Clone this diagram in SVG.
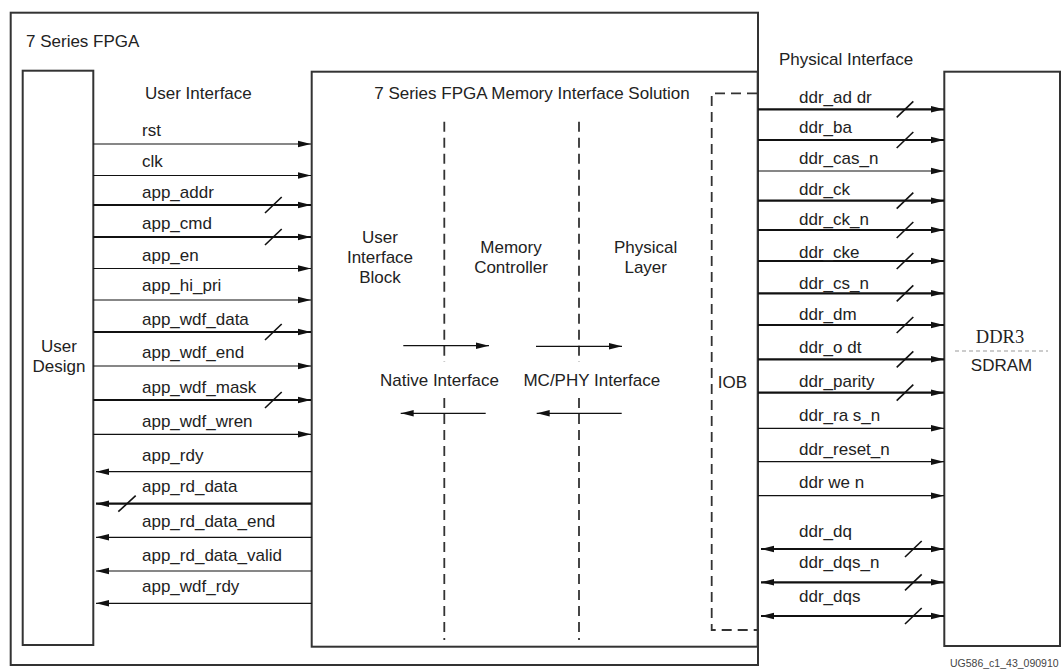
<svg xmlns="http://www.w3.org/2000/svg" width="1062" height="669" viewBox="0 0 1062 669">
<style>
.box{fill:#fff;stroke:#333;stroke-width:2}
.t{font-family:"Liberation Sans",Arial,sans-serif;font-size:17px;fill:#222}
.tc{font-family:"Liberation Sans",Arial,sans-serif;font-size:17px;fill:#222;text-anchor:middle}
.thin{stroke:#111;stroke-width:1.2;fill:none}
.thick{stroke:#111;stroke-width:2.2;fill:none}
.slash{stroke:#111;stroke-width:1.6}
.dash{stroke:#333;stroke-width:1.8;fill:none;stroke-dasharray:10 6}
</style>
<defs>
<marker id="ah" markerUnits="userSpaceOnUse" markerWidth="13" markerHeight="8" refX="13" refY="4" orient="auto-start-reverse"><path d="M0,0.8 L13,4 L0,7.2 z" fill="#111"/></marker>
</defs>
<rect width="1062" height="669" fill="#fff"/>
<g id="fpga">
<rect class="box" x="10.7" y="12.7" width="747.3" height="652.3"/>
<text class="t" x="26" y="46.7">7 Series FPGA</text>
</g>
<g id="user-design">
<rect class="box" x="22.7" y="70.7" width="70.6" height="574.3"/>
<text class="tc" x="59" y="351.5">User</text>
<text class="tc" x="59" y="372">Design</text>
</g>
<g id="mis">
<rect class="box" x="311.7" y="71.7" width="446" height="575"/>
<text class="tc" x="532" y="99.3">7 Series FPGA Memory Interface Solution</text>
<line class="dash" x1="444.3" y1="121.7" x2="444.3" y2="362"/>
<line class="dash" x1="444.3" y1="398" x2="444.3" y2="640"/>
<line class="dash" x1="579" y1="121.7" x2="579" y2="362"/>
<line class="dash" x1="579" y1="398" x2="579" y2="640"/>
</g>
<g id="ui-block">
<text class="tc" x="380" y="242.7">User</text>
<text class="tc" x="380" y="262.5">Interface</text>
<text class="tc" x="380" y="282.7">Block</text>
</g>
<g id="mem-ctrl">
<text class="tc" x="511" y="252.7">Memory</text>
<text class="tc" x="511" y="272.5">Controller</text>
</g>
<g id="phy">
<text class="tc" x="645.7" y="252.7">Physical</text>
<text class="tc" x="645.7" y="272.5">Layer</text>
</g>
<g id="iob">
<path class="dash" d="M757,93.3 H711.7 V630 H757"/>
<text class="tc" x="732.5" y="388.3">IOB</text>
</g>
<g id="ddr3">
<rect class="box" x="944.3" y="71.7" width="115.7" height="574.3"/>
<text x="1000" y="343.3" style="font-family:'Liberation Serif','Times New Roman',serif;font-size:18.5px;fill:#222;text-anchor:middle">DDR3</text>
<line x1="955" y1="351" x2="1048" y2="351" style="stroke:#999;stroke-width:1;stroke-dasharray:4 3"/>
<text class="tc" x="1001.5" y="371">SDRAM</text>
</g>
<g id="labels">
<text class="t" x="145" y="99.3">User Interface</text>
<text class="t" x="779" y="65">Physical Interface</text>
<text class="tc" x="439.5" y="385.7">Native Interface</text>
<text class="tc" x="591.8" y="385.7">MC/PHY Interface</text>
<text x="950" y="667" style="font-family:'Liberation Sans',Arial,sans-serif;font-size:10.5px;fill:#444">UG586_c1_43_090910</text>
</g>
<g id="connectors">
<line class="thin" x1="403.3" y1="345.7" x2="489" y2="345.7" marker-end="url(#ah)"/>
<line class="thin" x1="536" y1="346.3" x2="622" y2="346.3" marker-end="url(#ah)"/>
<line class="thin" x1="485.7" y1="413.3" x2="400.7" y2="413.3" marker-end="url(#ah)"/>
<line class="thin" x1="621.7" y1="413.3" x2="536.7" y2="413.3" marker-end="url(#ah)"/>
<line class="thin" x1="93.3" y1="144" x2="311" y2="144" marker-end="url(#ah)"/>
<line class="thin" x1="93.3" y1="175.5" x2="311" y2="175.5" marker-end="url(#ah)"/>
<line class="thick" x1="93.3" y1="205" x2="311" y2="205" marker-end="url(#ah)"/>
<line class="slash" x1="265" y1="213" x2="281.7" y2="197"/>
<line class="thick" x1="93.3" y1="237" x2="311" y2="237" marker-end="url(#ah)"/>
<line class="slash" x1="265" y1="245" x2="281.7" y2="229"/>
<line class="thin" x1="93.3" y1="268.5" x2="311" y2="268.5" marker-end="url(#ah)"/>
<line class="thin" x1="93.3" y1="300" x2="311" y2="300" marker-end="url(#ah)"/>
<line class="thick" x1="93.3" y1="332" x2="311" y2="332" marker-end="url(#ah)"/>
<line class="slash" x1="265" y1="340" x2="281.7" y2="324"/>
<line class="thin" x1="93.3" y1="366" x2="311" y2="366" marker-end="url(#ah)"/>
<line class="thick" x1="93.3" y1="400" x2="311" y2="400" marker-end="url(#ah)"/>
<line class="slash" x1="265" y1="408" x2="281.7" y2="392"/>
<line class="thin" x1="93.3" y1="434.3" x2="311" y2="434.3" marker-end="url(#ah)"/>
<line class="thin" x1="311.7" y1="471.7" x2="96" y2="471.7" marker-end="url(#ah)"/>
<line class="thick" x1="311.7" y1="503.7" x2="96" y2="503.7" marker-end="url(#ah)"/>
<line class="slash" x1="118.3" y1="511.7" x2="135.7" y2="495.7"/>
<line class="thin" x1="311.7" y1="537.3" x2="96" y2="537.3" marker-end="url(#ah)"/>
<line class="thin" x1="311.7" y1="571" x2="96" y2="571" marker-end="url(#ah)"/>
<line class="thin" x1="311.7" y1="603.3" x2="96" y2="603.3" marker-end="url(#ah)"/>
<line class="thick" x1="758" y1="109.3" x2="944" y2="109.3" marker-end="url(#ah)"/>
<line class="slash" x1="896.7" y1="117.3" x2="913.3" y2="101.3"/>
<line class="thick" x1="758" y1="140" x2="944" y2="140" marker-end="url(#ah)"/>
<line class="slash" x1="896.7" y1="148" x2="913.3" y2="132"/>
<line class="thin" x1="758" y1="171" x2="944" y2="171" marker-end="url(#ah)"/>
<line class="thick" x1="758" y1="200.7" x2="944" y2="200.7" marker-end="url(#ah)"/>
<line class="slash" x1="896.7" y1="208.7" x2="913.3" y2="192.7"/>
<line class="thick" x1="758" y1="230" x2="944" y2="230" marker-end="url(#ah)"/>
<line class="slash" x1="896.7" y1="238" x2="913.3" y2="222"/>
<line class="thick" x1="758" y1="261" x2="944" y2="261" marker-end="url(#ah)"/>
<line class="slash" x1="896.7" y1="269" x2="913.3" y2="253"/>
<line class="thick" x1="758" y1="293.3" x2="944" y2="293.3" marker-end="url(#ah)"/>
<line class="slash" x1="896.7" y1="301.3" x2="913.3" y2="285.3"/>
<line class="thick" x1="758" y1="325" x2="944" y2="325" marker-end="url(#ah)"/>
<line class="slash" x1="896.7" y1="333" x2="913.3" y2="317"/>
<line class="thick" x1="758" y1="359.3" x2="944" y2="359.3" marker-end="url(#ah)"/>
<line class="slash" x1="896.7" y1="367.3" x2="913.3" y2="351.3"/>
<line class="thick" x1="758" y1="392.7" x2="944" y2="392.7" marker-end="url(#ah)"/>
<line class="slash" x1="896.7" y1="400.7" x2="913.3" y2="384.7"/>
<line class="thin" x1="758" y1="428.3" x2="944" y2="428.3" marker-end="url(#ah)"/>
<line class="thin" x1="758" y1="461.7" x2="944" y2="461.7" marker-end="url(#ah)"/>
<line class="thin" x1="758" y1="495.7" x2="944" y2="495.7" marker-end="url(#ah)"/>
<line class="thick" x1="761" y1="549" x2="944" y2="549" marker-start="url(#ah)" marker-end="url(#ah)"/>
<line class="slash" x1="905" y1="557" x2="921.7" y2="541"/>
<line class="thick" x1="761" y1="582.3" x2="944" y2="582.3" marker-start="url(#ah)" marker-end="url(#ah)"/>
<line class="slash" x1="905" y1="590.3" x2="921.7" y2="574.3"/>
<line class="thick" x1="761" y1="616" x2="944" y2="616" marker-start="url(#ah)" marker-end="url(#ah)"/>
<line class="slash" x1="905" y1="624" x2="921.7" y2="608"/>
</g>
<g id="signal-labels">
<text class="t" x="142" y="136">rst</text>
<text class="t" x="142" y="166.5">clk</text>
<text class="t" x="142" y="197.5">app_addr</text>
<text class="t" x="142" y="228.7">app_cmd</text>
<text class="t" x="142" y="260.7">app_en</text>
<text class="t" x="142" y="291">app_hi_pri</text>
<text class="t" x="142" y="325">app_wdf_data</text>
<text class="t" x="142" y="358.3">app_wdf_end</text>
<text class="t" x="142" y="392.7">app_wdf_mask</text>
<text class="t" x="142" y="426.7">app_wdf_wren</text>
<text class="t" x="142" y="460.7">app_rdy</text>
<text class="t" x="142" y="492.3">app_rd_data</text>
<text class="t" x="142" y="526.7">app_rd_data_end</text>
<text class="t" x="142" y="560.7">app_rd_data_valid</text>
<text class="t" x="142" y="591.7">app_wdf_rdy</text>
<text class="t" x="799" y="103">ddr_ad dr</text>
<text class="t" x="799" y="133.3">ddr_ba</text>
<text class="t" x="799" y="164">ddr_cas_n</text>
<text class="t" x="799" y="195">ddr_ck</text>
<text class="t" x="799" y="225">ddr_ck_n</text>
<text class="t" x="799" y="257.5">ddr_cke</text>
<text class="t" x="799" y="289">ddr_cs_n</text>
<text class="t" x="799" y="320">ddr_dm</text>
<text class="t" x="799" y="352.7">ddr_o dt</text>
<text class="t" x="799" y="387">ddr_parity</text>
<text class="t" x="799" y="421">ddr_ra s_n</text>
<text class="t" x="799" y="455">ddr_reset_n</text>
<text class="t" x="799" y="487.7">ddr we n</text>
<text class="t" x="799" y="536.7">ddr_dq</text>
<text class="t" x="799" y="567.7">ddr_dqs_n</text>
<text class="t" x="799" y="601.7">ddr_dqs</text>
</g>
</svg>
